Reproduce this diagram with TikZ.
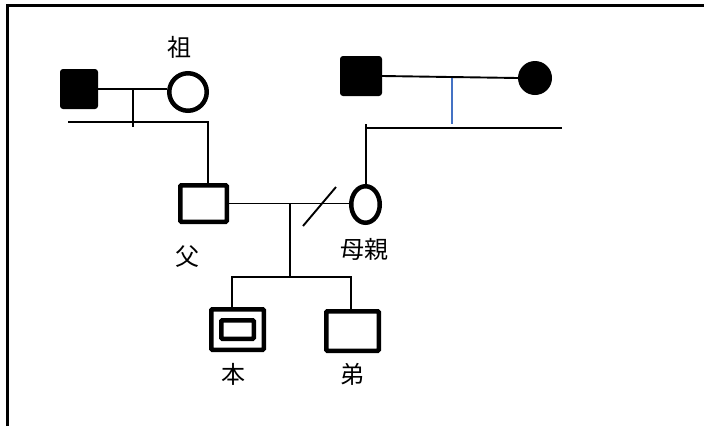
\documentclass[tikz,border=0pt]{standalone}
\usepackage{fontspec}
\newfontfamily\cjk{Noto Sans CJK JP}
\usetikzlibrary{shapes.geometric}
\tikzset{
  frameline/.style={line width=3.2pt},
  link/.style={line width=1.9pt},
  bluelink/.style={line width=1.9pt, draw=linkblue},
  blacksq/.style={rectangle, fill=black, rounded corners=3pt, inner sep=0pt},
  opensq/.style={rectangle, draw=black, line width=4.5pt, rounded corners=1pt, inner sep=0pt, fill=white},
  opencirc/.style={circle, draw=black, line width=4.5pt, inner sep=0pt, fill=white},
  blackcirc/.style={circle, fill=black, inner sep=0pt},
  openell/.style={ellipse, draw=black, line width=4.5pt, inner sep=0pt, fill=white},
  lab/.style={font=\cjk\fontsize{24}{24}\selectfont, inner sep=0pt, anchor=center}
}
\definecolor{linkblue}{RGB}{68,114,196}
\begin{document}
\begin{tikzpicture}[x=1pt,y=-1pt]
\useasboundingbox (0,0) rectangle (704,426);
% frame
\coordinate (fbl) at (7.5,426);
\coordinate (ftl) at (7.5,5.5);
\coordinate (ftr) at (704,5.5);
\draw[frameline] (fbl) -- (ftl) -- (ftr);
% left grandparents
\node[blacksq, minimum width=38pt, minimum height=40pt] (gf) at (79,89) {};
\node[opencirc, minimum size=37.5pt] (gm) at (188,92) {};
\node[lab] (lgm) at (179,47) {祖};
% right grandparents
\node[blacksq, minimum width=42pt, minimum height=40pt] (gf2) at (361,76) {};
\node[blackcirc, minimum size=34pt] (gm2) at (535,78) {};
% parents
\node[opensq, minimum width=46.5pt, minimum height=36.5pt] (fa) at (203.5,203.5) {};
\node[openell, minimum width=28.5pt, minimum height=36.5pt] (mo) at (365.5,204.5) {};
\node[lab] (lfa) at (187,257) {父};
\node[lab] (lmo) at (364,249) {母親};
% children
\node[opensq, minimum width=52.5pt, minimum height=40.5pt] (hon) at (237.5,329.5) {};
\node[opensq, minimum width=32.5pt, minimum height=18.5pt] (honin) at (237.5,329.5) {};
\node[opensq, minimum width=52.5pt, minimum height=39.5pt] (oto) at (352.5,331) {};
\node[lab] (lhon) at (233,374) {本};
\node[lab] (loto) at (352,374) {弟};
% left grandparents links
\draw[link] (gf.east) -- (gf.east -| gm.west);
\coordinate (j1) at (133,89);
\coordinate (j1b) at (133,127);
\draw[link] (j1) -- (j1b);
\coordinate (s1l) at (68,122);
\coordinate (s1r) at (208,122);
\draw[link] (s1l) -- (s1r) -- (s1r |- fa.north);
% right grandparents links
\draw[link] (gf2.east) -- (gm2.west);
\coordinate (j3) at (452,78);
\coordinate (j3b) at (452,124);
\draw[bluelink] (j3) -- (j3b);
\coordinate (s2l) at (366,128);
\coordinate (s2r) at (562,128);
\coordinate (s2t) at (366,124);
\draw[link] (s2l) -- (s2r);
\draw[link] (s2t) -- (s2t |- mo.north);
% parents marriage
\draw[link] (fa.east) -- (fa.east -| mo.west);
\coordinate (sl1) at (303,226);
\coordinate (sl2) at (336,187);
\draw[link] (sl1) -- (sl2);
\coordinate (j2) at (290,203.5);
\coordinate (j2b) at (290,277);
\draw[link] (j2) -- (j2b);
\coordinate (sb1) at (232,277);
\coordinate (sb2) at (351,277);
\draw[link] (sb1 |- hon.north) -- (sb1) -- (sb2) -- (sb2 |- oto.north);
\end{tikzpicture}
\end{document}
